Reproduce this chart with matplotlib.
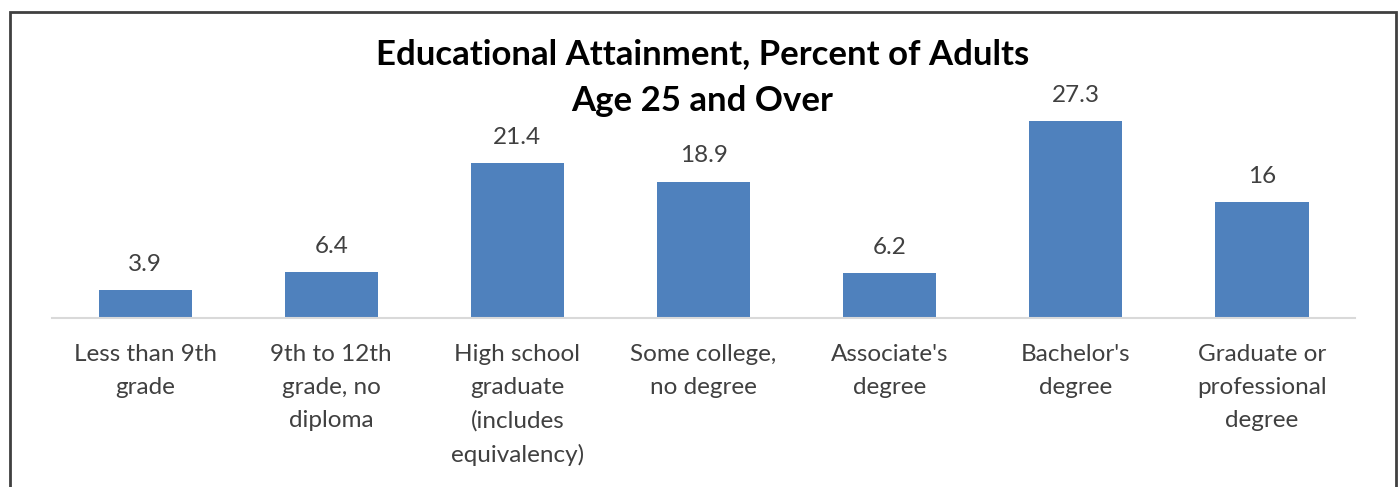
import matplotlib
matplotlib.use("Agg")
from matplotlib import pyplot as plt
from matplotlib.patches import Rectangle

plt.rcParams['font.family'] = ['Lato', 'DejaVu Sans']

categories = ["Less than 9th\ngrade", "9th to 12th\ngrade, no\ndiploma",
              "High school\ngraduate\n(includes\nequivalency)",
              "Some college,\nno degree", "Associate's\ndegree",
              "Bachelor's\ndegree", "Graduate or\nprofessional\ndegree"]
values = [3.9, 6.4, 21.4, 18.9, 6.2, 27.3, 16]
value_labels = ["3.9", "6.4", "21.4", "18.9", "6.2", "27.3", "16"]

fig = plt.figure(figsize=(13.99, 4.87), dpi=100)
ax = fig.add_axes([0.0372, 0.347, 0.9314, 0.4448])

x = range(len(values))
bars = ax.bar(x, values, width=0.5, color="#4f81bd")
ax.set_xlim(-0.5, len(values) - 0.5)
ax.set_ylim(0, 30)

for b, lab in zip(bars, value_labels):
    ax.annotate(lab, (b.get_x() + b.get_width() / 2, b.get_height()),
                xytext=(0, 11), textcoords="offset points",
                ha="center", va="bottom", fontsize=17.5, color="#404040")

ax.set_xticks(list(x))
ax.set_xticklabels(categories, fontsize=17.5, color="#404040", linespacing=1.68, va="top")
ax.tick_params(axis="x", length=0, pad=19)
ax.set_yticks([])
for s in ["top", "right", "left"]:
    ax.spines[s].set_visible(False)
ax.spines["bottom"].set_color("#d9d9d9")
ax.spines["bottom"].set_linewidth(1.5)

fig.text(0.502, 0.841, "Educational Attainment, Percent of Adults\nAge 25 and Over",
         ha="center", va="center", fontsize=25, fontweight="bold",
         color="black", linespacing=1.6)

# frame round the chart area
fig.patches.append(Rectangle((10 / 1399, -0.1), 1386 / 1399, 1.1 - 12 / 487,
                             transform=fig.transFigure, fill=False,
                             edgecolor="#404040", linewidth=2))

fig.savefig("out.png", dpi=100)
